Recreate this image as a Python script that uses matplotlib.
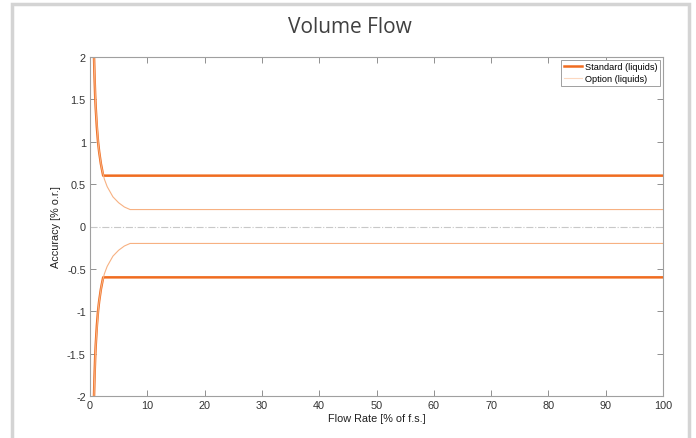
import matplotlib.pyplot as plt
from matplotlib.patches import Rectangle

# values (accuracy in % o.r. vs flow in % of f.s.)
std_x = [0.7, 0.8, 0.9, 1.0, 1.2, 1.4, 1.6, 1.9, 2.3, 100]
std_up = [2.0, 1.75, 1.55, 1.4, 1.17, 1.0, 0.88, 0.74, 0.6, 0.6]
std_lo = [-2.0, -1.75, -1.55, -1.4, -1.17, -1.0, -0.88, -0.74, -0.6, -0.6]

opt_x = [0.7, 1.0, 1.5, 2.0, 2.5, 3.0, 4.0, 5.0, 6.0, 7.0, 100]
opt_up = [2.0, 1.4, 0.93, 0.7, 0.56, 0.47, 0.35, 0.28, 0.23, 0.2, 0.2]
opt_lo = [-2.0, -1.4, -0.93, -0.7, -0.56, -0.47, -0.35, -0.28, -0.23, -0.2, -0.2]

xticks = [0, 10, 20, 30, 40, 50, 60, 70, 80, 90, 100]
yticks = [-2, -1.5, -1, -0.5, 0, 0.5, 1, 1.5, 2]

plt.rcParams['font.family'] = ['Liberation Sans', 'DejaVu Sans']

fig = plt.figure(figsize=(6.96, 4.39), dpi=100)

# light grey frame round the picture
fig.patches.append(Rectangle((12 / 696, -0.05), 677 / 696, 1.05 - 5 / 439,
                             transform=fig.transFigure, fill=False,
                             edgecolor='#d4d4d4', linewidth=2.5))

fig.text(0.503, 0.938, 'Volume Flow', ha='center', va='center',
         fontsize=15, color='#404040', family=['Open Sans', 'DejaVu Sans'])

ax = fig.add_axes([90 / 696, 1 - 397 / 439, 573 / 696, 339 / 439])

std_col = '#f06c20'
opt_col = '#f7b182'

ax.axhline(0, color='#c8c8c8', linewidth=0.8, linestyle='-.')
ax.plot(std_x, std_up, color=std_col, linewidth=1.8, label='Standard (liquids)')
ax.plot(std_x, std_lo, color=std_col, linewidth=1.8)
ax.plot(opt_x, opt_up, color=opt_col, linewidth=0.8, label='Option (liquids)')
ax.plot(opt_x, opt_lo, color=opt_col, linewidth=0.8)

ax.set_xlim(0, 100)
ax.set_ylim(-2, 2)
ax.set_xticks(xticks)
ax.set_yticks(yticks)
ax.set_xticklabels([str(v) for v in xticks])
ax.set_yticklabels(['-2', '-1.5', '-1', '-0.5', '0', '0.5', '1', '1.5', '2'])
ax.tick_params(direction='in', length=4, width=0.7, colors='#909090',
               labelcolor='#333333', labelsize=7.8, top=True, right=True, pad=3)
for s in ax.spines.values():
    s.set_color('#a0a0a0')
    s.set_linewidth(0.8)

ax.set_xlabel('Flow Rate [% of f.s.]', fontsize=7.8, color='#202020', labelpad=2)
ax.set_ylabel('Accuracy [% o.r.]', fontsize=7.8, color='#202020', labelpad=4)

leg = ax.legend(loc='upper right', fontsize=6.6, handlelength=2.0,
                handletextpad=0.3, borderpad=0.3, labelspacing=0.3,
                fancybox=False, framealpha=1, borderaxespad=0.3)
leg.get_frame().set_edgecolor('#a0a0a0')
leg.get_frame().set_linewidth(0.7)
leg.get_lines()[1].set_color('#fcd8c0')

fig.savefig('out.png', dpi=100)
